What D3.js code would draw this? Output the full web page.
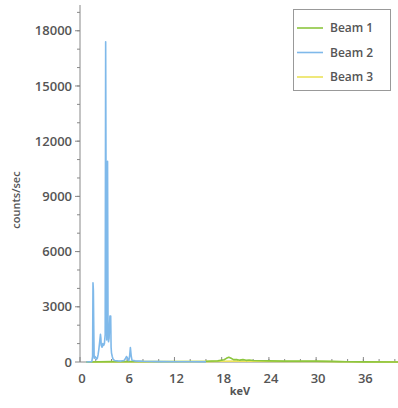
<!DOCTYPE html>
<html>
<head>
<meta charset="utf-8">
<script src="https://cdn.jsdelivr.net/npm/d3@7"></script>
<style>
  body { margin: 0; background: #fff; }
  text { font-family: "Open Sans", sans-serif; }
</style>
</head>
<body>
<script>
// Chart setup
const w = 398;
const h = 408;

// Beam 2 (blue) spectrum, keV vs counts/sec
const beam2Kev = [0.8, 1.5, 1.6, 1.65, 1.7, 1.75, 1.8, 1.9, 2.0, 2.1, 2.2, 2.3, 2.4, 2.5, 2.6, 2.65, 2.7, 2.8, 2.9,
  3.0, 3.1, 3.2, 3.26, 3.32, 3.4, 3.5, 3.56, 3.62, 3.7, 3.8, 3.9, 3.95, 4.0, 4.1, 4.2, 4.4, 4.8, 5.2, 5.6, 5.8,
  5.9, 6.0, 6.1, 6.2, 6.3, 6.4, 6.5, 6.6, 6.8, 7.0, 7.5, 8.0, 9.0, 10, 12, 14, 16];
const beam2Counts = [0, 20, 300, 4300, 3900, 1800, 200, 300, 250, 150, 200, 400, 700, 1100, 1500, 1300, 900, 800, 1000,
  900, 1000, 1500, 17400, 8000, 1200, 10900, 2000, 1100, 1300, 2500, 2500, 800, 500, 300, 150, 80, 60, 50, 80, 200,
  300, 250, 120, 80, 300, 780, 350, 100, 80, 60, 50, 40, 30, 20, 15, 10, 5];

// Beam 1 (green) spectrum
const beam1Kev = [0.8, 4, 10, 16, 17.5, 18.3, 18.6, 18.9, 19.2, 19.5, 19.9, 20.3, 20.7, 21.1, 21.5, 22, 23, 24, 26,
  28, 30, 32, 33, 34, 36, 40.4];
const beam1Counts = [0, 20, 30, 40, 60, 120, 200, 260, 200, 130, 140, 100, 130, 90, 110, 80, 70, 60, 50,
  50, 45, 35, 20, 10, 5, 0];

// Beam 3 (yellow) spectrum
const beam3Kev = [0.8, 10, 16, 18, 20, 22, 26, 30, 34, 40.4];
const beam3Counts = [0, 10, 20, 40, 50, 40, 30, 30, 10, 0];

// Axis ticks
const xTicks = [0, 6, 12, 18, 24, 30, 36];
const yTicks = [0, 3000, 6000, 9000, 12000, 15000, 18000];
const legendNames = ["Beam 1", "Beam 2", "Beam 3"];
const legendColors = ["#8cc63e", "#7fb9ea", "#ece35a"];

const svg = d3.select("body")
  .append("svg")
  .attr("width", w)
  .attr("height", h);

const x = d3.scaleLinear().domain([0, 40.4]).range([80, 398]);
const y = d3.scaleLinear().domain([0, 19400]).range([362, 5]);

const axisColor = "#888";
const labelColor = "#555";

// y axis
const yAxis = svg.append("g").attr("transform", "translate(80,0)");
yAxis.append("line").attr("y1", y(0)).attr("y2", y(19400)).attr("stroke", axisColor);
yAxis.selectAll(".minor")
  .data(d3.range(1000, 19001, 1000))
  .join("line")
  .attr("x1", -3).attr("x2", 0)
  .attr("y1", d => y(d)).attr("y2", d => y(d))
  .attr("stroke", axisColor);
yAxis.selectAll(".major")
  .data(yTicks)
  .join("g")
  .each(function (d) {
    const g = d3.select(this);
    g.append("line").attr("x1", -5).attr("x2", 0).attr("y1", y(d)).attr("y2", y(d)).attr("stroke", axisColor);
    g.append("text")
      .attr("x", -8).attr("y", y(d)).attr("dy", "0.35em")
      .attr("text-anchor", "end")
      .attr("font-size", 13).attr("font-weight", 600)
      .attr("fill", labelColor)
      .text(d);
  });

// x axis
const xAxis = svg.append("g").attr("transform", `translate(0,${y(0)})`);
xAxis.append("line").attr("x1", x(0)).attr("x2", x(40.4)).attr("stroke", axisColor);
xAxis.selectAll(".minor")
  .data(d3.range(2, 41, 2))
  .join("line")
  .attr("x1", d => x(d)).attr("x2", d => x(d))
  .attr("y1", -3).attr("y2", 0)
  .attr("stroke", axisColor);
xAxis.selectAll(".major")
  .data(xTicks)
  .join("g")
  .each(function (d) {
    const g = d3.select(this);
    g.append("line").attr("x1", x(d)).attr("x2", x(d)).attr("y1", -5).attr("y2", 0).attr("stroke", axisColor);
    g.append("text")
      .attr("x", x(d) + 2).attr("y", 21)
      .attr("text-anchor", "middle")
      .attr("font-size", 13).attr("font-weight", 600)
      .attr("fill", labelColor)
      .text(d);
  });

// axis titles
svg.append("text")
  .attr("x", 240).attr("y", 395)
  .attr("text-anchor", "middle")
  .attr("font-size", 11).attr("font-weight", 700)
  .attr("fill", labelColor)
  .text("keV");

svg.append("text")
  .attr("transform", "translate(20,200) rotate(-90)")
  .attr("text-anchor", "middle")
  .attr("font-size", 11).attr("font-weight", 600)
  .attr("fill", labelColor)
  .text("counts/sec");

// spectra
const line = d3.line().x(d => x(d[0])).y(d => y(d[1]));
const series = [
  { kev: beam3Kev, counts: beam3Counts, color: legendColors[2] },
  { kev: beam1Kev, counts: beam1Counts, color: legendColors[0] },
  { kev: beam2Kev, counts: beam2Counts, color: legendColors[1] }
];
series.forEach(s => {
  svg.append("path")
    .datum(d3.zip(s.kev, s.counts))
    .attr("d", line)
    .attr("fill", "none")
    .attr("stroke", s.color)
    .attr("stroke-width", 1.6)
    .attr("stroke-linejoin", "round");
});

// legend
const legend = svg.append("g");
legend.append("rect")
  .attr("x", 293.5).attr("y", 9.5)
  .attr("width", 97).attr("height", 81)
  .attr("fill", "#fff").attr("stroke", "#999");
legendNames.forEach((name, i) => {
  const ly = 28 + i * 24.5;
  legend.append("line")
    .attr("x1", 297).attr("x2", 323)
    .attr("y1", ly).attr("y2", ly)
    .attr("stroke", legendColors[i]).attr("stroke-width", 1.6);
  legend.append("text")
    .attr("x", 330).attr("y", ly).attr("dy", "0.35em")
    .attr("font-size", 12).attr("font-weight", 600)
    .attr("fill", labelColor)
    .text(name);
});
</script>
</body>
</html>
